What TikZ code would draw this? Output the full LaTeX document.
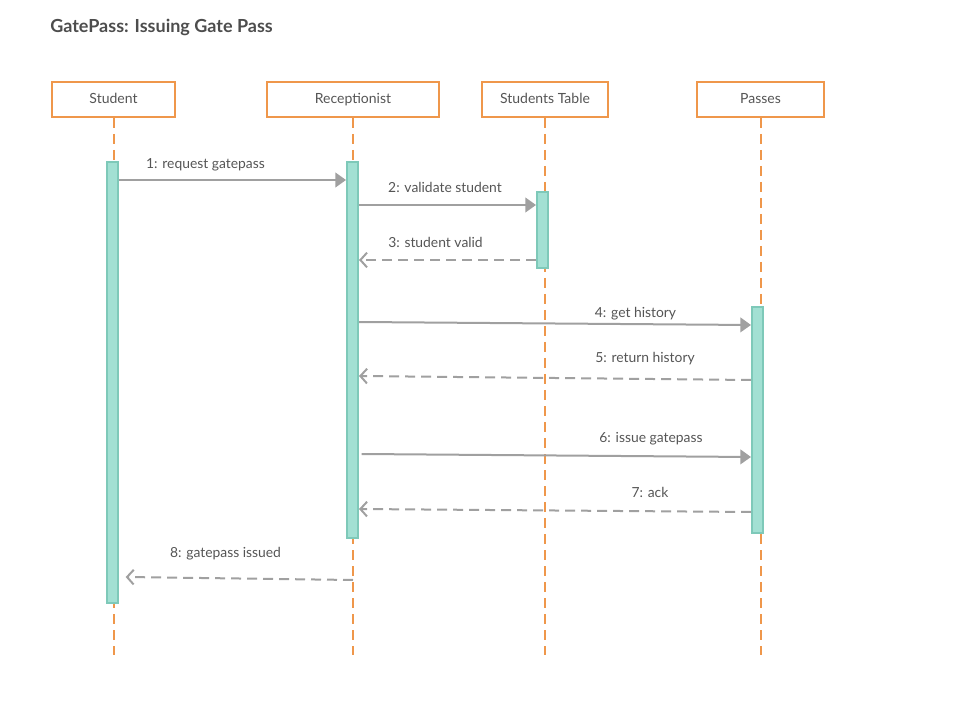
\documentclass[tikz,border=0pt]{standalone}
\usepackage{fontspec}
\setmainfont{Lato}
\usetikzlibrary{arrows.meta}
\definecolor{lifeorange}{RGB}{239,151,75}
\definecolor{barfill}{RGB}{162,224,211}
\definecolor{barline}{RGB}{126,201,185}
\definecolor{msggray}{RGB}{160,160,160}
\definecolor{textgray}{RGB}{85,85,85}
\tikzset{
	actor/.style={draw=lifeorange, line width=1.5pt, fill=white, text=textgray, minimum height=26.25pt, text height=1.6ex, text depth=0.3ex, font=\fontsize{10.5pt}{12pt}\selectfont},
	lifeline/.style={draw=lifeorange, line width=1.5pt, dash pattern=on 7.5pt off 4.5pt},
	bar/.style={draw=barline, fill=barfill, line width=1.5pt, minimum width=8.25pt, inner sep=0pt},
	msg/.style={draw=msggray, line width=1.5pt, -{Triangle[length=8pt, width=11pt]}},
	reply/.style={draw=msggray, line width=1.5pt, dash pattern=on 7.5pt off 4.5pt, -{Straight Barb[length=5pt, width=11pt]}},
	msglabel/.style={anchor=base, text=textgray, inner sep=0pt, font=\fontsize{10.4pt}{12pt}\selectfont}
}
\begin{document}
\begin{tikzpicture}[x=0.75pt, y=-0.75pt]
		\useasboundingbox (0, 0) rectangle (960, 716);
		\node[anchor=base west, inner sep=0pt, text={rgb,255:red,77;green,77;blue,77}, font=\fontsize{13.5pt}{16pt}\selectfont\bfseries] (title) at (50, 32.5) {GatePass: Issuing Gate Pass};
		\node[actor, minimum width=92.25pt] (student) at (113.5, 99.5) {Student};
		\node[actor, minimum width=129pt] (recep) at (353, 99.5) {Receptionist};
		\node[actor, minimum width=94.5pt] (table) at (545, 99.5) {Students Table};
		\node[actor, minimum width=95.25pt] (passes) at (760.5, 99.5) {Passes};
		\draw[lifeline] (student.south) -- (student |- 0, 655);
		\draw[lifeline] (recep.south) -- (recep |- 0, 655);
		\draw[lifeline] (table.south) -- (table |- 0, 655);
		\draw[lifeline] (passes.south) -- (passes |- 0, 655);
		\node[bar, minimum height=330.75pt] (sbar) at (112.5, 382.5) {};
		\node[bar, minimum height=282pt] (rbar) at (352.5, 350) {};
		\node[bar, minimum height=57pt] (tbar) at (542.5, 230) {};
		\node[bar, minimum height=169.5pt] (pbar) at (757.5, 420) {};
		\draw[msg] (sbar.east |- 0, 180) -- (rbar.west |- 0, 180);
		\node[msglabel] (m1) at (205.5, 168.5) {1: request gatepass};
		\draw[msg] (rbar.east |- 0, 205) -- (tbar.west |- 0, 205);
		\node[msglabel] (m2) at (445, 192.5) {2: validate student};
		\draw[reply] (tbar.west |- 0, 260) -- (rbar.east |- 0, 260);
		\node[msglabel] (m3) at (435.5, 247.5) {3: student valid};
		\draw[msg] (rbar.east |- 0, 322) -- (pbar.west |- 0, 325);
		\node[msglabel] (m4) at (635.5, 317.5) {4: get history};
		\draw[reply] (pbar.west |- 0, 380) -- (rbar.east |- 0, 376);
		\node[msglabel] (m5) at (645, 362.5) {5: return history};
		\draw[msg] ([xshift=2pt]rbar.east |- 0, 454) -- (pbar.west |- 0, 457);
		\node[msglabel] (m6) at (651, 442.5) {6: issue gatepass};
		\draw[reply] (pbar.west |- 0, 512) -- (rbar.east |- 0, 509);
		\node[msglabel] (m7) at (650, 497.5) {7: ack};
		\draw[reply] (recep |- 0, 580) -- ([xshift=5pt]sbar.east |- 0, 577);
		\node[msglabel] (m8) at (225.5, 557.5) {8: gatepass issued};
		\end{tikzpicture}
\end{document}
